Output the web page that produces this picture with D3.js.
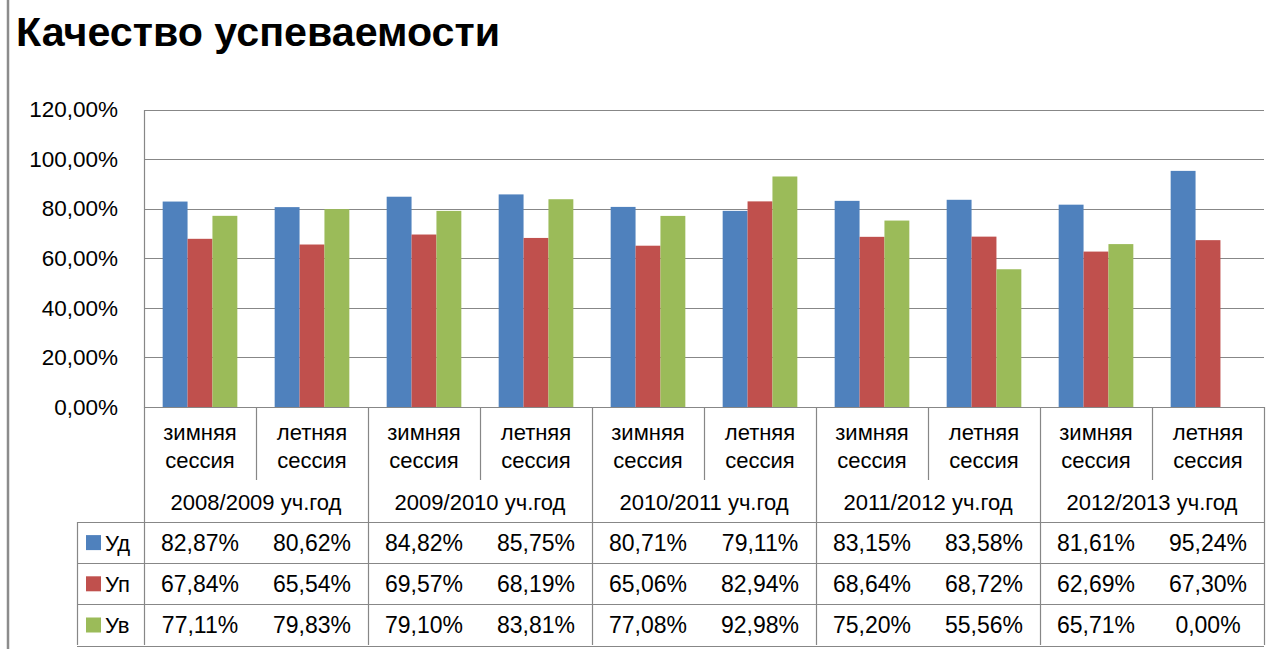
<!DOCTYPE html>
<html>
<head>
<meta charset="utf-8">
<script src="https://cdn.jsdelivr.net/npm/d3@7"></script>
<style>
    body { margin: 0; background: #fff; }
    svg text { font-family: "Liberation Sans", Arial, sans-serif; fill: #000; }
</style>
</head>
<body>
<div id="chart"></div>
<script>
// data
let years = ["2008/2009 уч.год", "2009/2010 уч.год", "2010/2011 уч.год", "2011/2012 уч.год", "2012/2013 уч.год"];
let sessions = [["зимняя", "сессия"], ["летняя", "сессия"]];
let seriesNames = ["Уд", "Уп", "Ув"];
let ud = [82.87, 80.62, 84.82, 85.75, 80.71, 79.11, 83.15, 83.58, 81.61, 95.24];
let up = [67.84, 65.54, 69.57, 68.19, 65.06, 82.94, 68.64, 68.72, 62.69, 67.30];
let uv = [77.11, 79.83, 79.10, 83.81, 77.08, 92.98, 75.20, 55.56, 65.71, 0.00];
let yTicks = [0, 20, 40, 60, 80, 100, 120];

let seriesValues = [ud, up, uv];
let colors = ["#4F81BD", "#C0504D", "#9BBB59"];
let gridColor = "#878787";

let W = 1281, H = 650;
let plot = {left: 144, right: 1264, top: 109.5, bottom: 407};
let table = {legendLeft: 77, sessionBottom: 480, yearBottom: 522, rowH: 41.2};

let ru = d3.formatLocale({decimal: ",", thousands: " ", grouping: [3], currency: ["", ""]});
let pct = ru.format(".2%");

// categories: one per session, ten in total
let cats = [];
years.forEach((y, i) => sessions.forEach((s, j) => cats.push({year: i, session: j, id: i * 2 + j})));

let svg = d3.select("#chart").append("svg")
    .attr("width", W)
    .attr("height", H);

// gray frame on the left edge
svg.append("line")
    .attr("x1", 8).attr("x2", 8)
    .attr("y1", 0).attr("y2", 649)
    .attr("stroke", "#8c8c8c")
    .attr("stroke-width", 2.5);

svg.append("text")
    .attr("x", 16)
    .attr("y", 46)
    .attr("font-size", 40)
    .attr("font-weight", "bold")
    .attr("textLength", 484)
    .attr("lengthAdjust", "spacingAndGlyphs")
    .text("Качество успеваемости");

// scales
let x = d3.scaleBand()
    .domain(cats.map(d => d.id))
    .range([plot.left, plot.right])
    .padding(0);

let xSub = d3.scaleBand()
    .domain(d3.range(seriesNames.length))
    .range([0, x.bandwidth()])
    .paddingInner(0)
    .paddingOuter(0.75);

let y = d3.scaleLinear()
    .domain([0, 120])
    .range([plot.bottom, plot.top]);

// gridlines
svg.append("g")
    .selectAll("line")
    .data(yTicks)
    .join("line")
    .attr("x1", plot.left)
    .attr("x2", plot.right)
    .attr("y1", d => Math.round(y(d)) + 0.5)
    .attr("y2", d => Math.round(y(d)) + 0.5)
    .attr("stroke", gridColor)
    .attr("stroke-width", 1.2);

// y axis labels
let yAxis = d3.axisLeft(y)
    .tickValues(yTicks)
    .tickSize(0)
    .tickPadding(26)
    .tickFormat(d => pct(d / 100));

svg.append("g")
    .attr("transform", "translate(" + plot.left + ",0)")
    .call(yAxis)
    .call(g => g.select(".domain").attr("stroke", gridColor).attr("stroke-width", 1.2))
    .call(g => g.selectAll("text")
        .attr("font-size", 22.5)
        .attr("font-family", "Liberation Sans, Arial, sans-serif")
        .attr("fill", "#000"));

// bars
let groups = svg.append("g")
    .selectAll("g")
    .data(seriesValues)
    .join("g")
    .attr("fill", (d, i) => colors[i]);

groups.selectAll("rect")
    .data((vals, si) => vals.map((v, ci) => ({v: v, si: si, ci: ci})))
    .join("rect")
    .attr("x", d => x(d.ci) + xSub(d.si))
    .attr("width", xSub.bandwidth())
    .attr("y", d => y(d.v))
    .attr("height", d => y(0) - y(d.v));

// category table below the axis
let tbl = svg.append("g")
    .attr("stroke", gridColor)
    .attr("stroke-width", 1.2);

// session dividers (short) and year dividers (full height)
let bounds = d3.range(cats.length + 1);
tbl.selectAll("line.div")
    .data(bounds)
    .join("line")
    .attr("class", "div")
    .attr("x1", d => Math.round(plot.left + d * x.step()) + 0.5)
    .attr("x2", d => Math.round(plot.left + d * x.step()) + 0.5)
    .attr("y1", plot.bottom)
    .attr("y2", d => d % 2 === 0 ? H - 5 : table.sessionBottom);

// horizontal row lines of the data table
let rowLines = [table.yearBottom, table.yearBottom + table.rowH, table.yearBottom + 2 * table.rowH, table.yearBottom + 3 * table.rowH];
tbl.selectAll("line.row")
    .data(rowLines)
    .join("line")
    .attr("class", "row")
    .attr("x1", table.legendLeft)
    .attr("x2", plot.right)
    .attr("y1", d => Math.round(d) + 0.5)
    .attr("y2", d => Math.round(d) + 0.5);

tbl.append("line")
    .attr("x1", table.legendLeft + 0.5)
    .attr("x2", table.legendLeft + 0.5)
    .attr("y1", table.yearBottom)
    .attr("y2", H - 5);

// session labels
let labels = svg.append("g").attr("font-size", 22).attr("text-anchor", "middle");
cats.forEach(c => {
    let cx = x(c.id) + x.bandwidth() / 2;
    labels.append("text").attr("x", cx).attr("y", 440).text(sessions[c.session][0]);
    labels.append("text").attr("x", cx).attr("y", 468).text(sessions[c.session][1]);
});

// year labels
labels.selectAll("text.year")
    .data(years)
    .join("text")
    .attr("class", "year")
    .attr("x", (d, i) => plot.left + (i + 0.5) * 2 * x.step())
    .attr("y", 510)
    .text(d => d);

// data rows with legend keys
seriesValues.forEach((vals, si) => {
    let cy = table.yearBottom + (si + 0.5) * table.rowH;
    svg.append("rect")
        .attr("x", 86)
        .attr("y", cy - 7.5)
        .attr("width", 15)
        .attr("height", 15)
        .attr("fill", colors[si]);
    svg.append("text")
        .attr("x", 105)
        .attr("y", cy + 8)
        .attr("font-size", 22)
        .text(seriesNames[si]);
    labels.selectAll("text.v" + si)
        .data(vals)
        .join("text")
        .attr("class", "v" + si)
        .attr("x", (d, i) => x(i) + x.bandwidth() / 2)
        .attr("y", cy + 8)
        .attr("font-size", 23)
        .text(d => pct(d / 100));
});
</script>
</body>
</html>
